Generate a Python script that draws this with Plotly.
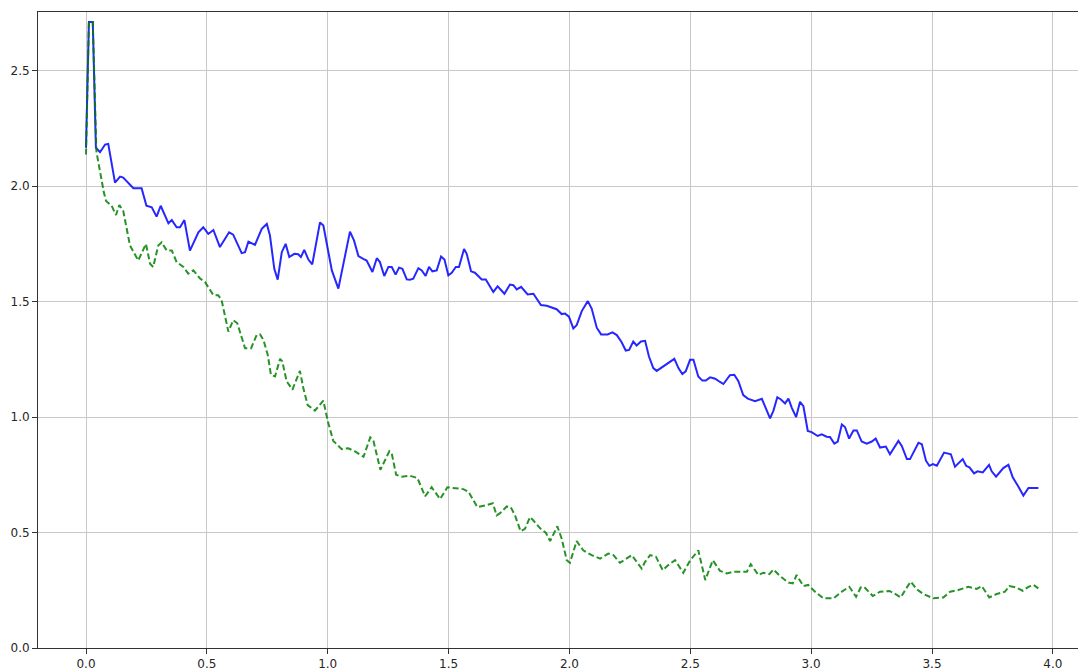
import plotly.graph_objects as go

# Blue solid series: vertices (x, y)
blue_x = [0.000, 0.012, 0.028, 0.041, 0.058, 0.079, 0.092, 0.120, 0.141, 0.154,
          0.196, 0.230, 0.250, 0.272, 0.292, 0.309, 0.341, 0.355, 0.375, 0.389,
          0.407, 0.430, 0.465, 0.485, 0.506, 0.527, 0.554, 0.592, 0.609, 0.644,
          0.658, 0.672, 0.699, 0.727, 0.748, 0.761, 0.779, 0.793, 0.810, 0.826,
          0.841, 0.862, 0.878, 0.889, 0.903, 0.920, 0.936, 0.968, 0.982, 1.017,
          1.044, 1.069, 1.092, 1.109, 1.127, 1.147, 1.161, 1.185, 1.203, 1.216,
          1.234, 1.251, 1.265, 1.281, 1.295, 1.309, 1.327, 1.340, 1.354, 1.375,
          1.389, 1.405, 1.419, 1.433, 1.451, 1.469, 1.483, 1.499, 1.513, 1.530,
          1.543, 1.564, 1.575, 1.593, 1.609, 1.637, 1.654, 1.685, 1.703, 1.731,
          1.754, 1.768, 1.782, 1.800, 1.827, 1.851, 1.882, 1.906, 1.927, 1.947,
          1.968, 1.982, 1.998, 2.016, 2.030, 2.051, 2.076, 2.092, 2.113, 2.131,
          2.158, 2.178, 2.196, 2.216, 2.233, 2.247, 2.264, 2.278, 2.296, 2.313,
          2.329, 2.347, 2.361, 2.396, 2.434, 2.451, 2.467, 2.481, 2.499, 2.513,
          2.533, 2.550, 2.564, 2.582, 2.603, 2.623, 2.637, 2.664, 2.682, 2.699,
          2.719, 2.738, 2.768, 2.796, 2.830, 2.844, 2.860, 2.875, 2.892, 2.906,
          2.920, 2.938, 2.954, 2.968, 2.986, 3.002, 3.027, 3.044, 3.064, 3.078,
          3.096, 3.110, 3.127, 3.140, 3.157, 3.175, 3.189, 3.209, 3.230, 3.251,
          3.267, 3.285, 3.309, 3.326, 3.361, 3.375, 3.396, 3.409, 3.444, 3.458,
          3.475, 3.489, 3.504, 3.520, 3.550, 3.578, 3.595, 3.627, 3.641, 3.655,
          3.674, 3.688, 3.710, 3.736, 3.747, 3.765, 3.795, 3.816, 3.834, 3.857,
          3.878, 3.899, 3.940]
blue_y = [2.166, 2.711, 2.711, 2.166, 2.147, 2.180, 2.183, 2.015, 2.041, 2.037,
          1.991, 1.991, 1.915, 1.908, 1.868, 1.915, 1.839, 1.853, 1.822, 1.822,
          1.853, 1.721, 1.800, 1.822, 1.793, 1.810, 1.736, 1.800, 1.790, 1.710,
          1.714, 1.760, 1.746, 1.815, 1.836, 1.786, 1.642, 1.595, 1.714, 1.750,
          1.693, 1.707, 1.705, 1.693, 1.724, 1.682, 1.661, 1.843, 1.829, 1.635,
          1.556, 1.693, 1.803, 1.764, 1.697, 1.685, 1.678, 1.628, 1.688, 1.671,
          1.611, 1.650, 1.650, 1.617, 1.647, 1.642, 1.596, 1.595, 1.599, 1.645,
          1.635, 1.611, 1.650, 1.631, 1.635, 1.695, 1.682, 1.614, 1.625, 1.650,
          1.650, 1.728, 1.707, 1.631, 1.625, 1.596, 1.596, 1.542, 1.566, 1.534,
          1.574, 1.571, 1.553, 1.564, 1.531, 1.534, 1.485, 1.482, 1.473, 1.467,
          1.446, 1.448, 1.435, 1.384, 1.398, 1.459, 1.502, 1.470, 1.387, 1.358,
          1.358, 1.367, 1.355, 1.324, 1.288, 1.291, 1.327, 1.310, 1.327, 1.330,
          1.262, 1.212, 1.200, 1.224, 1.252, 1.212, 1.186, 1.198, 1.248, 1.248,
          1.176, 1.158, 1.158, 1.172, 1.166, 1.152, 1.143, 1.181, 1.183, 1.155,
          1.095, 1.080, 1.069, 1.079, 0.994, 1.028, 1.086, 1.076, 1.059, 1.080,
          1.040, 1.000, 1.066, 1.047, 0.940, 0.935, 0.918, 0.925, 0.915, 0.914,
          0.885, 0.894, 0.968, 0.957, 0.907, 0.942, 0.942, 0.894, 0.885, 0.894,
          0.907, 0.868, 0.872, 0.839, 0.897, 0.875, 0.818, 0.818, 0.889, 0.882,
          0.811, 0.789, 0.796, 0.789, 0.846, 0.839, 0.785, 0.818, 0.789, 0.782,
          0.756, 0.765, 0.760, 0.793, 0.765, 0.742, 0.779, 0.793, 0.739, 0.699,
          0.660, 0.693, 0.693]

# Green dashed series: vertices (x, y)
green_x = [0.000, 0.012, 0.028, 0.043, 0.074, 0.083, 0.106, 0.124, 0.138, 0.154,
           0.182, 0.216, 0.248, 0.265, 0.278, 0.299, 0.313, 0.334, 0.355, 0.375,
           0.403, 0.423, 0.444, 0.472, 0.492, 0.527, 0.547, 0.561, 0.589, 0.609,
           0.626, 0.658, 0.683, 0.706, 0.720, 0.734, 0.752, 0.765, 0.782, 0.803,
           0.812, 0.830, 0.854, 0.872, 0.885, 0.899, 0.917, 0.947, 0.964, 0.982,
           1.000, 1.023, 1.058, 1.085, 1.113, 1.148, 1.176, 1.189, 1.218, 1.255,
           1.265, 1.283, 1.306, 1.340, 1.371, 1.403, 1.430, 1.465, 1.495, 1.527,
           1.561, 1.582, 1.619, 1.651, 1.683, 1.699, 1.713, 1.741, 1.757, 1.775,
           1.798, 1.816, 1.837, 1.851, 1.878, 1.903, 1.920, 1.950, 1.968, 1.989,
           2.002, 2.030, 2.057, 2.092, 2.127, 2.161, 2.182, 2.209, 2.258, 2.299,
           2.313, 2.334, 2.358, 2.386, 2.409, 2.437, 2.471, 2.499, 2.533, 2.562,
           2.593, 2.623, 2.651, 2.678, 2.734, 2.750, 2.782, 2.802, 2.827, 2.844,
           2.871, 2.906, 2.924, 2.940, 2.968, 2.988, 3.016, 3.051, 3.092, 3.127,
           3.158, 3.186, 3.205, 3.219, 3.255, 3.285, 3.324, 3.343, 3.371, 3.393,
           3.412, 3.437, 3.464, 3.506, 3.547, 3.575, 3.609, 3.650, 3.685, 3.706,
           3.737, 3.768, 3.802, 3.820, 3.848, 3.875, 3.899, 3.920, 3.940]
green_y = [2.137, 2.711, 2.711, 2.150, 1.972, 1.936, 1.915, 1.875, 1.918, 1.893,
           1.743, 1.678, 1.750, 1.664, 1.650, 1.743, 1.757, 1.721, 1.721, 1.671,
           1.650, 1.621, 1.635, 1.600, 1.585, 1.528, 1.528, 1.506, 1.370, 1.420,
           1.406, 1.298, 1.298, 1.355, 1.358, 1.334, 1.269, 1.183, 1.176, 1.252,
           1.241, 1.155, 1.119, 1.169, 1.200, 1.126, 1.052, 1.028, 1.047, 1.071,
           0.983, 0.897, 0.861, 0.865, 0.851, 0.828, 0.912, 0.897, 0.772, 0.852,
           0.842, 0.750, 0.742, 0.746, 0.736, 0.657, 0.696, 0.645, 0.696, 0.693,
           0.688, 0.677, 0.610, 0.617, 0.627, 0.574, 0.584, 0.613, 0.610, 0.574,
           0.506, 0.516, 0.567, 0.552, 0.519, 0.498, 0.463, 0.527, 0.473, 0.380,
           0.369, 0.463, 0.423, 0.402, 0.387, 0.409, 0.402, 0.369, 0.402, 0.344,
           0.373, 0.402, 0.395, 0.337, 0.359, 0.380, 0.326, 0.378, 0.423, 0.294,
           0.380, 0.334, 0.323, 0.330, 0.330, 0.363, 0.316, 0.326, 0.320, 0.340,
           0.312, 0.283, 0.280, 0.316, 0.268, 0.273, 0.244, 0.215, 0.215, 0.244,
           0.265, 0.222, 0.262, 0.265, 0.225, 0.244, 0.247, 0.237, 0.219, 0.258,
           0.287, 0.254, 0.234, 0.215, 0.219, 0.244, 0.251, 0.265, 0.256, 0.268,
           0.219, 0.234, 0.244, 0.268, 0.262, 0.248, 0.265, 0.273, 0.258]

x_ticks = [0.0, 0.5, 1.0, 1.5, 2.0, 2.5, 3.0, 3.5, 4.0]
y_ticks = [0.0, 0.5, 1.0, 1.5, 2.0, 2.5]

fig = go.Figure()
fig.add_trace(go.Scatter(x=blue_x, y=blue_y, mode="lines",
                         line=dict(color="rgba(0,0,255,0.85)", width=2),
                         showlegend=False, hoverinfo="skip"))
fig.add_trace(go.Scatter(x=green_x, y=green_y, mode="lines",
                         line=dict(color="rgba(0,128,0,0.85)", width=2, dash="6px,3px"),
                         showlegend=False, hoverinfo="skip"))

axis_common = dict(
    showgrid=True, gridcolor="#c8c8c8", gridwidth=1,
    zeroline=False, showline=True, linecolor="#333333", linewidth=1,
    ticks="outside", ticklen=5, tickwidth=1, tickcolor="#333333",
    tickfont=dict(family="DejaVu Sans", size=12, color="#262626"),
    tickformat=".1f",
)

fig.update_layout(
    width=1078, height=671,
    margin=dict(l=38, r=0, t=12, b=19),
    paper_bgcolor="white", plot_bgcolor="white",
    xaxis=dict(range=[-0.1986, 4.104], tickvals=x_ticks, mirror=True, **axis_common),
    yaxis=dict(range=[0, 2.754], tickvals=y_ticks, mirror=False, **axis_common),
    showlegend=False,
)

fig.write_html(
    "out.html",
    config={"displayModeBar": False},
    post_script="document.body.style.margin='0';document.body.style.overflow='hidden';",
)
